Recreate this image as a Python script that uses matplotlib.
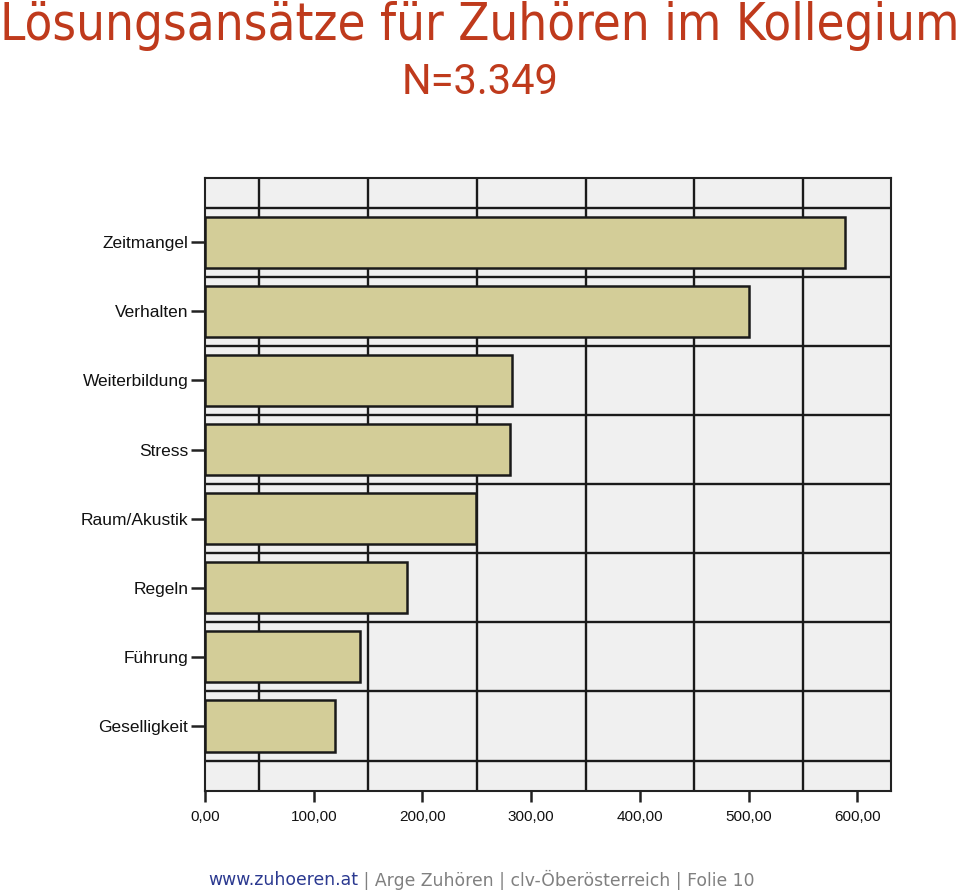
import matplotlib
matplotlib.use("Agg")
import matplotlib.pyplot as plt
import numpy as np

categories = ["Zeitmangel", "Verhalten", "Weiterbildung", "Stress",
              "Raum/Akustik", "Regeln", "Führung", "Geselligkeit"]
values = [589, 500, 282.5, 281, 249, 185.5, 142.5, 119.5]
xticks = [0, 100, 200, 300, 400, 500, 600]
xtick_labels = ["0,00", "100,00", "200,00", "300,00", "400,00", "500,00", "600,00"]
title = "Lösungsansätze für Zuhören im Kollegium"
subtitle = "N=3.349"

fig = plt.figure(figsize=(9.6, 8.92), dpi=100)
ax = fig.add_axes([205/960, 1-791/892, (891-205)/960, (791-178)/892])
ax.set_facecolor("#F0F0F0")

y = np.arange(len(categories))
ax.set_xlim(0, 631)
ax.set_ylim(7.94, -0.93)

for gx in [50, 150, 250, 350, 450, 550]:
    ax.axvline(gx, color="#1a1a1a", lw=1.7, zorder=1)
for gy in np.arange(-0.5, len(categories), 1.0):
    ax.axhline(gy, color="#1a1a1a", lw=1.7, zorder=1)

ax.barh(y, values, height=0.74, color="#D3CD98", edgecolor="#1a1a1a",
        linewidth=1.8, zorder=3)

ax.set_yticks(y)
ax.set_yticklabels(categories, fontsize=12.5, family="Liberation Sans", color="#111111")
ax.set_xticks(xticks)
ax.set_xticklabels(xtick_labels, fontsize=11, family="Liberation Sans", color="#111111")
ax.tick_params(axis="y", length=10, width=1.8, color="#222222", pad=2)
ax.tick_params(axis="x", length=8, width=1.8, color="#222222", pad=6)
for s in ax.spines.values():
    s.set_color("#222222")
    s.set_linewidth(1.5)

fig.text(0.5, 1-26/892, title, ha="center", va="center", fontsize=36.5,
         color="#BF3A1C", family="DejaVu Sans", fontstretch="condensed")
fig.text(0.5, 1-82/892, subtitle, ha="center", va="center", fontsize=30,
         color="#BF3A1C", family="Roboto")

fy = 1-880/892
t1 = fig.text(208/960, fy, "www.zuhoeren.at", ha="left", va="center",
              fontsize=12.4, color="#2B3990", family="DejaVu Sans")
fig.canvas.draw()
bb = t1.get_window_extent()
x2 = bb.x1 / fig.bbox.width
fig.text(x2, fy, " | Arge Zuhören | clv-Oberösterreich | Folie 10".replace("Ober", "Öber"),
         ha="left", va="center", fontsize=12.4, color="#808080", family="DejaVu Sans")

fig.savefig("out.png", dpi=100)
